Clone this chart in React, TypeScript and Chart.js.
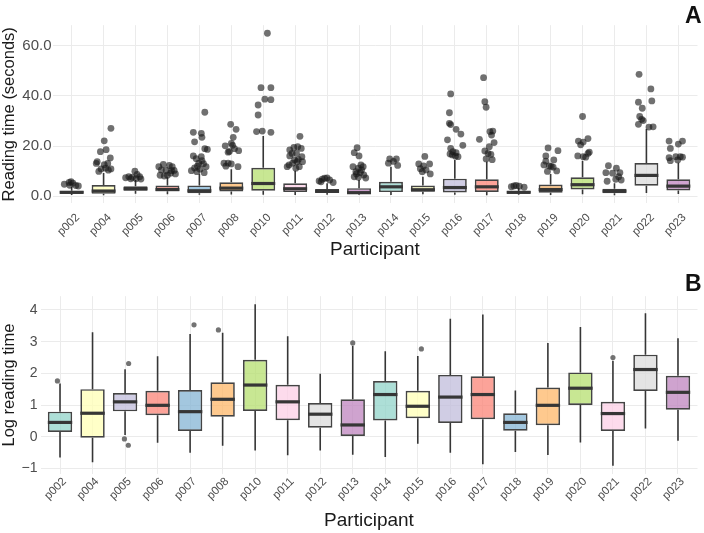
import React, { useEffect, useRef } from "react";
import { Chart, registerables } from "chart.js";

Chart.register(...registerables);

// Participants shown on both panels
const participants = [
  "p002", "p004", "p005", "p006", "p007", "p008", "p010", "p011", "p012", "p013",
  "p014", "p015", "p016", "p017", "p018", "p019", "p020", "p021", "p022", "p023",
];

// Panel A: reading time in seconds (box statistics)
const rawLow = [0.52, 0.44, 1.05, 0.83, 0.6, 0.75, 0.64, 0.55, 0.64, 0.57, 0.53, 0.8, 0.6, 0.42, 0.62, 0.56, 0.84, 0.4, 1.3, 0.88];
const rawQ1 = [1.16, 0.97, 2.23, 1.97, 1.2, 1.88, 2.25, 1.68, 1.32, 1.02, 1.67, 1.79, 1.54, 1.73, 1.21, 1.43, 2.72, 1.2, 4.22, 2.34];
const rawMedian = [1.57, 2.1, 3.0, 2.69, 2.2, 3.25, 5.1, 3.0, 2.03, 1.45, 3.78, 2.61, 3.49, 3.78, 1.57, 2.69, 4.62, 2.08, 8.33, 4.06];
const rawQ3 = [2.2, 4.48, 3.97, 4.26, 4.35, 5.58, 11.4, 5.16, 2.89, 3.25, 5.81, 4.26, 7.03, 6.75, 2.1, 4.71, 7.61, 3.0, 13.3, 6.82];
const rawHigh = [3.7, 9.3, 6.5, 7.6, 9.0, 10.8, 24.0, 10.2, 5.2, 6.5, 11.8, 7.8, 14.5, 13.8, 3.4, 8.9, 14.2, 5.2, 26.8, 13.4];

// Panel A outliers: [participant, horizontal jitter (category units), seconds]
const rawOutliers: [string, number, number][] = [
  ["p002", -0.23, 4.8], ["p002", -0.08, 5.5], ["p002", -0.02, 5.8], ["p002", 0.04, 5.2], ["p002", 0.13, 4.3], ["p002", 0.21, 4.1], ["p002", -0.06, 4.4],
  ["p004", 0.23, 27.1], ["p004", 0.02, 22.1], ["p004", -0.1, 17.8], ["p004", 0.08, 18.6], ["p004", -0.2, 13.8], ["p004", -0.23, 13.1], ["p004", 0.21, 15.3],
  ["p004", 0.13, 13.1], ["p004", 0.02, 12.6], ["p004", -0.08, 10.9], ["p004", 0.06, 11.2], ["p004", 0.23, 10.9], ["p004", -0.15, 9.9], ["p004", 0.15, 10.4],
  ["p005", -0.31, 7.4], ["p005", -0.21, 7.8], ["p005", -0.1, 7.6], ["p005", -0.02, 10.0], ["p005", 0.05, 8.7], ["p005", 0.13, 7.8], ["p005", 0.17, 6.9],
  ["p005", 0.02, 7.0], ["p005", -0.15, 7.0],
  ["p006", -0.27, 11.8], ["p006", -0.13, 12.7], ["p006", 0.06, 12.3], ["p006", 0.15, 11.8], ["p006", -0.19, 10.5], ["p006", -0.04, 10.3], ["p006", 0.13, 10.2],
  ["p006", 0.25, 8.9], ["p006", -0.23, 8.4], ["p006", -0.1, 8.1], ["p006", 0.0, 8.4], ["p006", 0.1, 9.2], ["p006", 0.21, 10.3],
  ["p007", 0.17, 33.5], ["p007", -0.19, 25.5], ["p007", 0.06, 25.1], ["p007", 0.08, 23.5], ["p007", -0.15, 21.7], ["p007", 0.17, 19.0], ["p007", 0.25, 18.7],
  ["p007", -0.19, 16.1], ["p007", -0.1, 15.0], ["p007", 0.06, 15.8], ["p007", -0.02, 13.2], ["p007", 0.13, 13.0], ["p007", 0.21, 11.8], ["p007", -0.15, 11.3],
  ["p007", 0.02, 10.8], ["p007", -0.25, 10.2], ["p007", -0.08, 9.8], ["p007", 0.15, 9.4], ["p007", 0.08, 14.2], ["p007", -0.06, 12.0],
  ["p008", -0.02, 28.7], ["p008", 0.15, 26.7], ["p008", -0.19, 20.1], ["p008", 0.06, 23.5], ["p008", 0.0, 21.1], ["p008", 0.04, 20.3], ["p008", -0.06, 17.9],
  ["p008", 0.1, 19.0], ["p008", 0.23, 18.2], ["p008", -0.1, 17.6], ["p008", -0.23, 13.2], ["p008", -0.1, 13.2], ["p008", 0.0, 12.9], ["p008", 0.21, 11.8],
  ["p008", -0.17, 12.0],
  ["p010", 0.13, 65.0], ["p010", -0.07, 43.3], ["p010", 0.24, 43.3], ["p010", 0.05, 38.7], ["p010", 0.24, 38.5], ["p010", -0.16, 36.4], ["p010", -0.16, 32.4],
  ["p010", -0.21, 25.8], ["p010", -0.03, 26.0], ["p010", 0.24, 25.5],
  ["p011", 0.15, 23.9], ["p011", -0.17, 18.5], ["p011", -0.04, 19.5], ["p011", 0.08, 19.8], ["p011", 0.19, 19.1], ["p011", -0.1, 17.1], ["p011", 0.04, 17.2],
  ["p011", 0.21, 15.8], ["p011", -0.17, 16.1], ["p011", -0.02, 14.5], ["p011", 0.1, 14.7], ["p011", 0.23, 13.8], ["p011", -0.19, 12.5], ["p011", -0.08, 13.2],
  ["p011", 0.06, 13.8], ["p011", 0.13, 11.8], ["p011", -0.25, 11.8], ["p011", 0.02, 11.2],
  ["p012", -0.25, 6.1], ["p012", -0.15, 6.8], ["p012", -0.08, 7.2], ["p012", 0.0, 7.3], ["p012", 0.08, 6.5], ["p012", 0.19, 5.5], ["p012", -0.19, 5.8],
  ["p013", -0.06, 19.4], ["p013", -0.15, 17.4], ["p013", 0.0, 16.1], ["p013", 0.06, 12.5], ["p013", -0.19, 11.8], ["p013", -0.02, 11.2], ["p013", 0.13, 11.8],
  ["p013", -0.1, 9.8], ["p013", 0.04, 9.4], ["p013", 0.15, 8.5], ["p013", -0.15, 7.8], ["p013", -0.02, 7.6], ["p013", 0.21, 7.3], ["p013", -0.08, 8.9],
  ["p013", 0.08, 10.5],
  ["p014", -0.04, 14.9], ["p014", 0.17, 14.9], ["p014", -0.08, 13.2], ["p014", 0.08, 13.9], ["p014", 0.21, 12.3],
  ["p015", 0.06, 15.9], ["p015", -0.13, 12.9], ["p015", 0.02, 12.1], ["p015", 0.21, 12.9], ["p015", -0.08, 11.0], ["p015", 0.1, 10.5], ["p015", 0.23, 8.9],
  ["p015", -0.02, 9.8],
  ["p016", -0.13, 40.8], ["p016", -0.17, 33.3], ["p016", -0.17, 29.1], ["p016", -0.13, 28.6], ["p016", 0.04, 26.7], ["p016", 0.19, 24.8], ["p016", -0.23, 22.5],
  ["p016", 0.25, 20.3], ["p016", -0.13, 19.1], ["p016", -0.06, 17.8], ["p016", 0.04, 17.4], ["p016", 0.1, 15.8], ["p016", -0.08, 16.5], ["p016", 0.02, 16.0],
  ["p016", -0.15, 16.9],
  ["p017", -0.1, 47.3], ["p017", -0.06, 37.7], ["p017", -0.02, 35.5], ["p017", 0.1, 25.8], ["p017", 0.19, 26.0], ["p017", 0.15, 24.4], ["p017", 0.23, 21.4],
  ["p017", -0.23, 22.7], ["p017", 0.08, 19.8], ["p017", -0.06, 18.1], ["p017", 0.04, 17.1], ["p017", 0.13, 16.7], ["p017", -0.02, 14.9], ["p017", 0.17, 14.6],
  ["p018", -0.23, 3.8], ["p018", -0.15, 4.1], ["p018", -0.08, 4.3], ["p018", 0.02, 4.0], ["p018", 0.17, 3.6],
  ["p019", -0.08, 19.3], ["p019", 0.23, 18.2], ["p019", -0.15, 16.1], ["p019", 0.1, 14.5], ["p019", -0.21, 12.5], ["p019", -0.04, 12.1], ["p019", 0.08, 11.6],
  ["p019", 0.19, 10.1], ["p019", -0.1, 9.9], ["p019", 0.02, 11.9], ["p019", -0.15, 14.0],
  ["p020", 0.0, 31.8], ["p020", -0.13, 22.0], ["p020", 0.02, 21.6], ["p020", 0.17, 23.0], ["p020", -0.06, 20.5], ["p020", -0.15, 16.1], ["p020", 0.02, 15.8],
  ["p020", 0.17, 17.1], ["p020", 0.21, 17.6], ["p020", 0.1, 15.6],
  ["p021", -0.19, 12.2], ["p021", 0.06, 11.2], ["p021", -0.27, 9.4], ["p021", -0.06, 9.2], ["p021", 0.17, 9.4], ["p021", -0.23, 6.0], ["p021", 0.04, 6.8],
  ["p021", 0.21, 6.5], ["p021", 0.13, 7.8],
  ["p022", -0.23, 48.6], ["p022", 0.14, 42.8], ["p022", 0.17, 38.0], ["p022", -0.25, 37.5], ["p022", -0.13, 35.1], ["p022", -0.21, 31.8], ["p022", -0.15, 30.7],
  ["p022", -0.25, 28.7], ["p022", 0.08, 27.6], ["p022", 0.21, 27.7], ["p022", -0.1, 30.2],
  ["p023", -0.29, 22.0], ["p023", 0.0, 20.8], ["p023", 0.13, 22.0], ["p023", -0.25, 19.1], ["p023", -0.29, 15.4], ["p023", -0.08, 15.8], ["p023", 0.06, 15.8],
  ["p023", -0.02, 14.5], ["p023", -0.25, 14.2], ["p023", 0.13, 15.6],
];

// Panel B: log reading time (box statistics)
const logLow = [-0.66, -0.81, 0.05, -0.19, -0.51, -0.29, -0.44, -0.59, -0.44, -0.57, -0.64, -0.22, -0.51, -0.87, -0.48, -0.58, -0.18, -0.92, 0.26, -0.13];
const logQ1 = [0.15, -0.03, 0.8, 0.68, 0.18, 0.63, 0.81, 0.52, 0.28, 0.02, 0.51, 0.58, 0.43, 0.55, 0.19, 0.36, 1.0, 0.18, 1.44, 0.85];
const logMedian = [0.45, 0.74, 1.1, 0.99, 0.79, 1.18, 1.63, 1.1, 0.71, 0.37, 1.33, 0.96, 1.25, 1.33, 0.45, 0.99, 1.53, 0.73, 2.12, 1.4];
const logQ3 = [0.79, 1.5, 1.38, 1.45, 1.47, 1.72, 2.43, 1.64, 1.06, 1.18, 1.76, 1.45, 1.95, 1.91, 0.74, 1.55, 2.03, 1.1, 2.59, 1.92];
const logHigh = [1.68, 3.3, 2.13, 2.54, 3.24, 3.28, 4.18, 3.17, 1.99, 2.87, 2.7, 2.55, 3.72, 3.86, 1.46, 2.96, 3.46, 2.4, 3.9, 3.11];

// Panel B outliers: [participant, horizontal jitter (category units), log seconds]
const logOutliers: [string, number, number][] = [
  ["p002", -0.08, 1.76],
  ["p005", 0.11, 2.31], ["p005", -0.02, -0.07], ["p005", 0.1, -0.27],
  ["p007", 0.12, 3.53],
  ["p008", -0.13, 3.37],
  ["p013", 0.0, 2.96],
  ["p015", 0.11, 2.77],
  ["p021", 0.0, 2.5],
];

const yTicksA = [0, 20, 40, 60];
const yTicksB = [-1, 0, 1, 2, 3, 4];

// Pastel fill cycle for the boxes
const boxPalette = ["#8DD3C7", "#FFFFB3", "#BEBADA", "#FB8072", "#80B1D3", "#FDB462", "#B3DE69", "#FCCDE5", "#D9D9D9", "#BC80BD"];

const FONT = "'Liberation Sans', Arial, Helvetica, sans-serif";
const LINE = "#363636";

function withAlpha(hex: string, a: number) {
  const n = parseInt(hex.slice(1), 16);
  return `rgba(${(n >> 16) & 255}, ${(n >> 8) & 255}, ${n & 255}, ${a})`;
}

type PanelSpec = {
  low: number[];
  q1: number[];
  med: number[];
  q3: number[];
  high: number[];
  outliers: [string, number, number][];
  yTicks: number[];
  yMin: number;
  yMax: number;
  yTitle: string;
  yTickSize: number;
  format: (v: number) => string;
  dotColor: string;
  dotRadius: number;
  areaTop: number;
  yAxisWidth: number;
  xAxisHeight: number;
  xTickPad: number;
  xLabelShift: number;
  xTitlePad: number;
  yTickPad: number;
};

const panelA: PanelSpec = {
  low: rawLow, q1: rawQ1, med: rawMedian, q3: rawQ3, high: rawHigh,
  outliers: rawOutliers,
  yTicks: yTicksA, yMin: -2.83, yMax: 68.2,
  yTitle: "Reading time (seconds)",
  yTickSize: 15,
  format: (v) => v.toFixed(1),
  dotColor: "rgba(25, 25, 25, 0.62)",
  dotRadius: 3.4,
  areaTop: 25.2, yAxisWidth: 52.5, xAxisHeight: 62.6, xTickPad: 7.5, xLabelShift: 6, xTitlePad: 4.6, yTickPad: 1,
};

const panelB: PanelSpec = {
  low: logLow, q1: logQ1, med: logMedian, q3: logQ3, high: logHigh,
  outliers: logOutliers,
  yTicks: yTicksB, yMin: -1.175, yMax: 4.435,
  yTitle: "Log reading time",
  yTickSize: 14,
  format: (v) => (v < 0 ? "\u2212" + Math.abs(v) : String(v)),
  dotColor: "rgba(90, 90, 90, 0.85)",
  dotRadius: 2.6,
  areaTop: 30.2, yAxisWidth: 40.5, xAxisHeight: 59.1, xTickPad: 1, xLabelShift: 4.5, xTitlePad: 0.5, yTickPad: 3,
};

// Whiskers behind the boxes, median bars on top of them
function boxDecor(spec: PanelSpec) {
  return {
    id: "boxDecor",
    beforeDatasetsDraw(chart: any) {
      const { ctx, scales } = chart;
      const xs = scales.x;
      const ys = scales.y;
      ctx.save();
      ctx.strokeStyle = LINE;
      ctx.lineWidth = 1.6;
      participants.forEach((_, i) => {
        const px = xs.getPixelForValue(i);
        ctx.beginPath();
        ctx.moveTo(px, ys.getPixelForValue(spec.q3[i]));
        ctx.lineTo(px, ys.getPixelForValue(spec.high[i]));
        ctx.moveTo(px, ys.getPixelForValue(spec.q1[i]));
        ctx.lineTo(px, ys.getPixelForValue(spec.low[i]));
        ctx.stroke();
      });
      ctx.restore();
    },
    afterDatasetDraw(chart: any, args: any) {
      if (args.meta.type !== "bar") return;
      const { ctx, scales } = chart;
      const ys = scales.y;
      ctx.save();
      ctx.strokeStyle = LINE;
      ctx.lineWidth = 3.2;
      args.meta.data.forEach((el: any, i: number) => {
        const { x, width } = el.getProps(["x", "width"], true);
        const py = ys.getPixelForValue(spec.med[i]);
        ctx.beginPath();
        ctx.moveTo(x - width / 2, py);
        ctx.lineTo(x + width / 2, py);
        ctx.stroke();
      });
      ctx.restore();
    },
  };
}

function buildConfig(spec: PanelSpec): any {
  const fills = participants.map((_, i) => withAlpha(boxPalette[i % boxPalette.length], 0.72));
  return {
    type: "bar",
    data: {
      datasets: [
        {
          type: "bar",
          order: 1,
          data: participants.map((_, i) => ({ x: i, y: [spec.q1[i], spec.q3[i]] })),
          backgroundColor: fills,
          borderColor: "#444444",
          borderWidth: 1.7,
          borderSkipped: false,
          barPercentage: 0.75,
          categoryPercentage: 1,
        },
        {
          type: "scatter",
          order: 0,
          data: spec.outliers.map(([p, dx, v]) => ({ x: participants.indexOf(p) + dx, y: v })),
          backgroundColor: spec.dotColor,
          borderWidth: 0,
          pointRadius: spec.dotRadius,
          pointHoverRadius: spec.dotRadius,
        },
      ],
    },
    options: {
      responsive: false,
      maintainAspectRatio: false,
      animation: false,
      events: [],
      layout: { padding: { top: spec.areaTop, right: 6.5, left: 0, bottom: 0 } },
      plugins: {
        legend: { display: false },
        tooltip: { enabled: false },
      },
      scales: {
        x: {
          type: "linear",
          min: -0.6,
          max: participants.length - 0.4,
          offset: false,
          afterBuildTicks: (s: any) => {
            s.ticks = participants.map((_, i) => ({ value: i }));
          },
          afterFit: (s: any) => {
            s.height = spec.xAxisHeight;
          },
          ticks: {
            autoSkip: false,
            minRotation: 45,
            maxRotation: 45,
            padding: spec.xTickPad,
            labelOffset: spec.xLabelShift,
            color: "#4d4d4d",
            font: { family: FONT, size: 11.5 },
            callback: (v: number) => participants[v] ?? "",
          },
          grid: { color: "#ebebeb", lineWidth: 1, drawTicks: false, offset: false },
          border: { display: false },
          title: {
            display: true,
            text: "Participant",
            color: "#1a1a1a",
            font: { family: FONT, size: 19 },
            padding: { top: 0, bottom: spec.xTitlePad },
          },
        },
        y: {
          type: "linear",
          min: spec.yMin,
          max: spec.yMax,
          afterBuildTicks: (s: any) => {
            s.ticks = spec.yTicks.map((v) => ({ value: v }));
          },
          afterFit: (s: any) => {
            s.width = spec.yAxisWidth;
          },
          ticks: {
            padding: spec.yTickPad,
            color: "#4d4d4d",
            font: { family: FONT, size: spec.yTickSize },
            callback: (v: number) => spec.format(v),
          },
          grid: { color: "#ebebeb", lineWidth: 1, drawTicks: false },
          border: { display: false },
          title: {
            display: true,
            text: spec.yTitle,
            color: "#1a1a1a",
            font: { family: FONT, size: 16.5 },
            padding: { top: 0, bottom: 0 },
          },
        },
      },
    },
    plugins: [boxDecor(spec)],
  };
}

function BoxPanel({ spec, top, height }: { spec: PanelSpec; top: number; height: number }) {
  const ref = useRef<HTMLCanvasElement>(null);
  useEffect(() => {
    const chart = new Chart(ref.current as HTMLCanvasElement, buildConfig(spec));
    return () => chart.destroy();
  }, [spec]);
  return (
    <canvas
      ref={ref}
      width={704}
      height={height}
      style={{ position: "absolute", left: 0, top, width: 704, height, display: "block" }}
    />
  );
}

const letterStyle: React.CSSProperties = {
  position: "absolute",
  right: 2.5,
  fontFamily: FONT,
  fontWeight: 700,
  fontSize: 23,
  lineHeight: "23px",
  color: "#111",
};

export default function App() {
  return (
    <div style={{ position: "fixed", left: 0, top: 0, width: 704, height: 533, background: "#fff", overflow: "hidden" }}>
      <BoxPanel spec={panelA} top={0} height={266} />
      <BoxPanel spec={panelB} top={266} height={267} />
      <div style={{ ...letterStyle, top: 3.5 }}>A</div>
      <div style={{ ...letterStyle, top: 271.5 }}>B</div>
    </div>
  );
}
